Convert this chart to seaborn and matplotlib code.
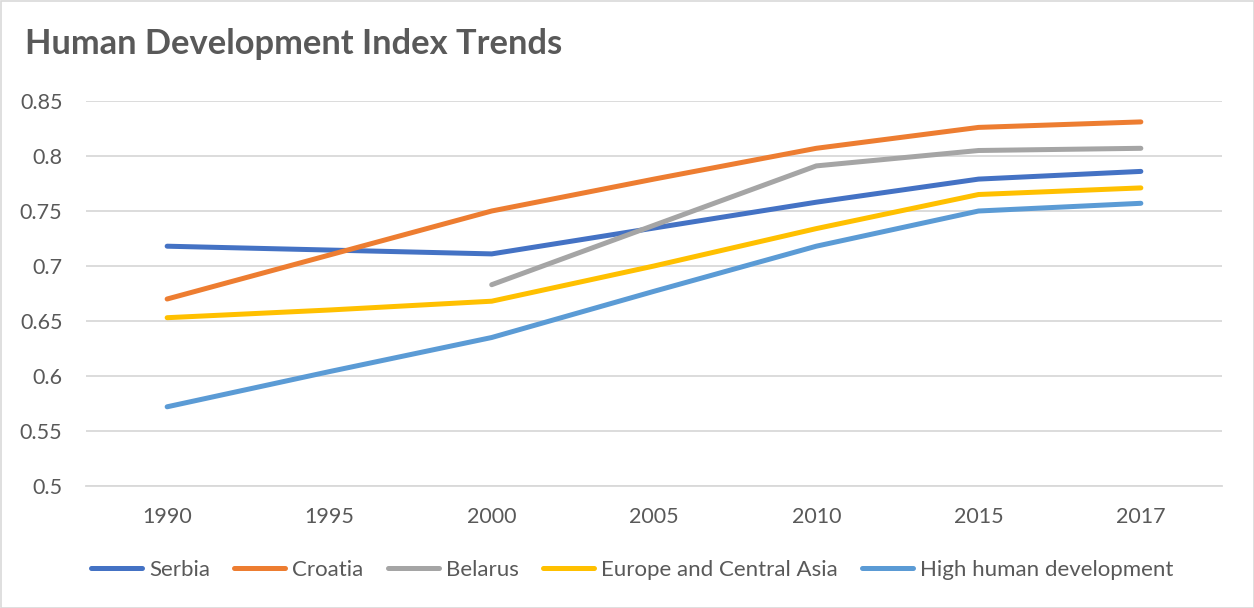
import numpy as np
import pandas as pd
import matplotlib
matplotlib.use("Agg")
import matplotlib.pyplot as plt
import seaborn as sns

years = ["1990", "1995", "2000", "2005", "2010", "2015", "2017"]
serbia = [0.718, 0.7145, 0.711, 0.7345, 0.758, 0.779, 0.786]
croatia = [0.670, 0.710, 0.750, 0.779, 0.807, 0.826, 0.831]
belarus = [np.nan, np.nan, 0.683, 0.737, 0.791, 0.805, 0.807]
europe_central_asia = [0.653, 0.660, 0.668, 0.700, 0.734, 0.765, 0.771]
high_human_dev = [0.572, 0.604, 0.635, 0.677, 0.718, 0.750, 0.757]

series_names = ["Serbia", "Croatia", "Belarus", "Europe and Central Asia", "High human development"]
series_values = [serbia, croatia, belarus, europe_central_asia, high_human_dev]
colors = ["#4472C4", "#ED7D31", "#A5A5A5", "#FFC000", "#5B9BD5"]

rows = []
for name, vals in zip(series_names, series_values):
    for i, v in enumerate(vals):
        rows.append({"pos": i, "year": years[i], "series": name, "hdi": v})
df = pd.DataFrame(rows).dropna()

sns.set_theme(style="white")
plt.rcParams["font.family"] = ["Lato", "DejaVu Sans"]

fig = plt.figure(figsize=(12.54, 6.08), dpi=100)
ax = fig.add_axes([86 / 1254, 1 - 486 / 608, (1222 - 86) / 1254, (486 - 101) / 608])

sns.lineplot(data=df, x="pos", y="hdi", hue="series", hue_order=series_names,
             palette=colors, linewidth=3.6, ax=ax, legend=False,
             solid_capstyle="round", solid_joinstyle="round")

ax.set_xlim(-0.5, len(years) - 0.5)
ax.set_ylim(0.5, 0.85)
ax.set_yticks(np.arange(0.5, 0.851, 0.05))
ax.set_yticklabels(["0.5", "0.55", "0.6", "0.65", "0.7", "0.75", "0.8", "0.85"])
ax.set_xticks(range(len(years)))
ax.set_xticklabels(years)
ax.set_xlabel("")
ax.set_ylabel("")
ax.grid(axis="y", color="#D9D9D9", linewidth=1.3)
ax.set_axisbelow(True)
for side in ["top", "right", "left"]:
    ax.spines[side].set_visible(False)
ax.spines["bottom"].set_color("#D9D9D9")
ax.spines["bottom"].set_linewidth(1.3)
ax.tick_params(axis="both", length=0, labelsize=15.5, labelcolor="#595959")
ax.tick_params(axis="x", pad=15)
ax.tick_params(axis="y", pad=17)

fig.text(25 / 1254, 1 - 44 / 608, "Human Development Index Trends", fontsize=24.8,
         fontweight="bold", color="#595959", va="center", ha="left")

handles = [plt.Line2D([0], [0], color=c, linewidth=3.6, solid_capstyle="round") for c in colors]
fig.legend(handles, series_names, loc="center", bbox_to_anchor=(0.504, 1 - 570 / 608),
           ncol=5, frameon=False, fontsize=16, labelcolor="#595959",
           handlelength=2.3, handletextpad=0.3, columnspacing=1.1)

border = plt.Rectangle((0.5 / 1254, 0.5 / 608), 1 - 1 / 1254, 1 - 1 / 608, transform=fig.transFigure,
                       fill=False, edgecolor="#D9D9D9", linewidth=1.2)
fig.add_artist(border)

fig.savefig("out.png", dpi=100, facecolor="white")
